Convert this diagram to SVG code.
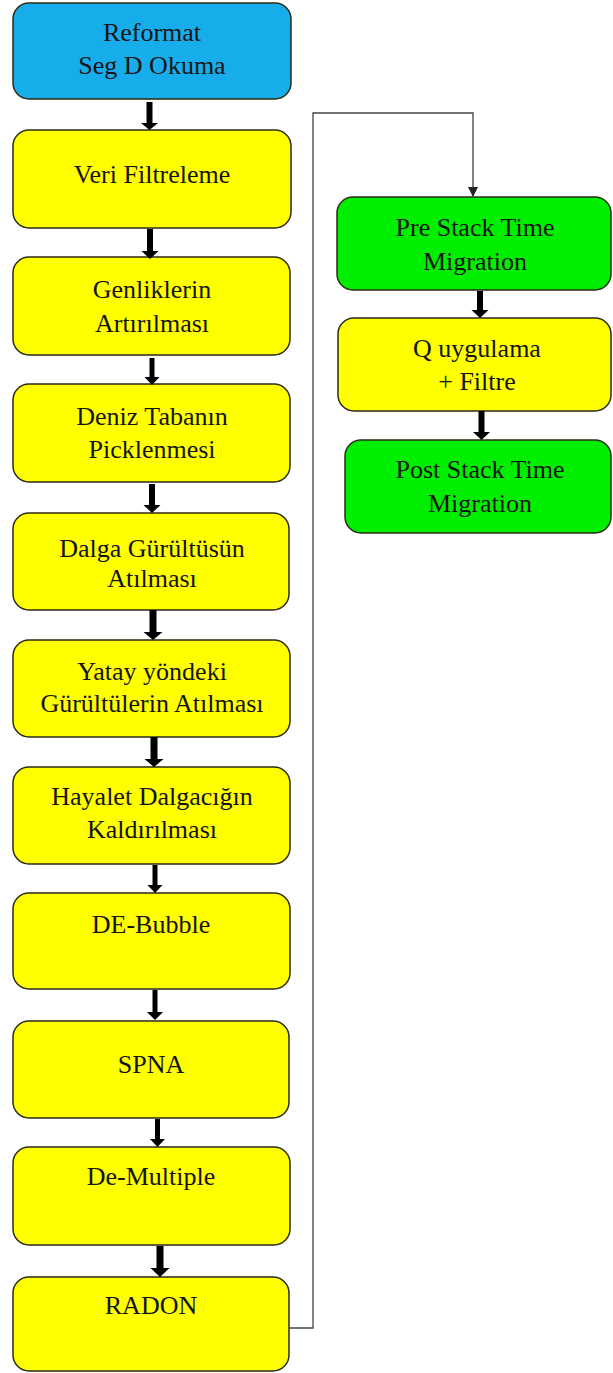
<svg xmlns="http://www.w3.org/2000/svg" width="613" height="1373" viewBox="0 0 613 1373">
<style>
.box{stroke:#2b2b14;stroke-width:1.5}
.blue{fill:#17ADEB}
.yellow{fill:#FFFF00}
.green{fill:#00EE00}
text{font-family:'Liberation Serif','Times New Roman','DejaVu Serif',serif;font-size:26px;fill:#141414;text-anchor:middle}
.thick{fill:#000}
.thin{fill:none;stroke:#444;stroke-width:1.3}
</style>
<defs>
<marker id="tri" markerWidth="10" markerHeight="10" refX="9" refY="5" orient="auto" markerUnits="userSpaceOnUse">
<path d="M0,0 L10,5 L0,10 z" fill="#222"/>
</marker>
</defs>
<g id="n1"><rect class="box blue" x="13" y="3" width="278" height="96" rx="16"/><text x="152" y="41">Reformat</text><text x="152" y="74">Seg D Okuma</text></g>
<g id="n2"><rect class="box yellow" x="13" y="130" width="278" height="98" rx="16"/><text x="152" y="183">Veri Filtreleme</text></g>
<g id="n3"><rect class="box yellow" x="13" y="257" width="277" height="98" rx="16"/><text x="152" y="298">Genliklerin</text><text x="152" y="332">Artırılması</text></g>
<g id="n4"><rect class="box yellow" x="13" y="384" width="277" height="98" rx="16"/><text x="152" y="425">Deniz Tabanın</text><text x="152" y="458">Picklenmesi</text></g>
<g id="n5"><rect class="box yellow" x="13" y="513" width="276" height="97" rx="16"/><text x="152" y="557">Dalga Gürültüsün</text><text x="152" y="587">Atılması</text></g>
<g id="n6"><rect class="box yellow" x="13" y="640" width="277" height="97" rx="16"/><text x="152" y="680">Yatay yöndeki</text><text x="152" y="712">Gürültülerin Atılması</text></g>
<g id="n7"><rect class="box yellow" x="13" y="767" width="277" height="97" rx="16"/><text x="152" y="805">Hayalet Dalgacığın</text><text x="152" y="838">Kaldırılması</text></g>
<g id="n8"><rect class="box yellow" x="13" y="893" width="277" height="96" rx="16"/><text x="151" y="933">DE-Bubble</text></g>
<g id="n9"><rect class="box yellow" x="13" y="1021" width="276" height="97" rx="16"/><text x="151" y="1073">SPNA</text></g>
<g id="n10"><rect class="box yellow" x="13" y="1147" width="277" height="98" rx="16"/><text x="151" y="1185">De-Multiple</text></g>
<g id="n11"><rect class="box yellow" x="13" y="1277" width="276" height="94" rx="16"/><text x="151" y="1314">RADON</text></g>
<g id="n12"><rect class="box green" x="337" y="197" width="274" height="93" rx="16"/><text x="475" y="236">Pre Stack Time</text><text x="475" y="270">Migration</text></g>
<g id="n13"><rect class="box yellow" x="338" y="318" width="273" height="93" rx="16"/><text x="477" y="357">Q uygulama</text><text x="477" y="390">+ Filtre</text></g>
<g id="n14"><rect class="box green" x="345" y="440" width="266" height="93" rx="16"/><text x="480" y="478">Post Stack Time</text><text x="480" y="512">Migration</text></g>
<g id="connectors">
<path class="thick" d="M146.5,102 h6 v21 h5.5 l-8.5,7 l-8.5,-7 h5.5 z"/>
<path class="thick" d="M147,229 h6 v22 h5.5 l-8.5,8 l-8.5,-8 h5.5 z"/>
<path class="thick" d="M149.5,358 h5 v19 h5 l-7.5,8 l-7.5,-8 h5 z"/>
<path class="thick" d="M149,484 h6 v21 h5.5 l-8.5,8 l-8.5,-8 h5.5 z"/>
<path class="thick" d="M149.5,610 h7 v22 h6 l-9.5,8 l-9.5,-8 h6 z"/>
<path class="thick" d="M150.5,737 h7 v22 h6 l-9.5,8 l-9.5,-8 h6 z"/>
<path class="thick" d="M152.5,865 h5 v20 h5 l-7.5,8 l-7.5,-8 h5 z"/>
<path class="thick" d="M152.5,990 h5 v22 h5.5 l-8,8 l-8,-8 h5.5 z"/>
<path class="thick" d="M155,1119 h5 v20 h5 l-7.5,8 l-7.5,-8 h5 z"/>
<path class="thick" d="M156.5,1246 h7 v22 h6 l-9.5,9 l-9.5,-9 h6 z"/>
<path class="thick" d="M477,291 h6 v19 h5.5 l-8.5,8 l-8.5,-8 h5.5 z"/>
<path class="thick" d="M478.5,411 h6 v21 h5.5 l-8.5,8 l-8.5,-8 h5.5 z"/>
<path class="thin" d="M289,1328 H313 V113 H473 V196" marker-end="url(#tri)"/>
</g>
</svg>
